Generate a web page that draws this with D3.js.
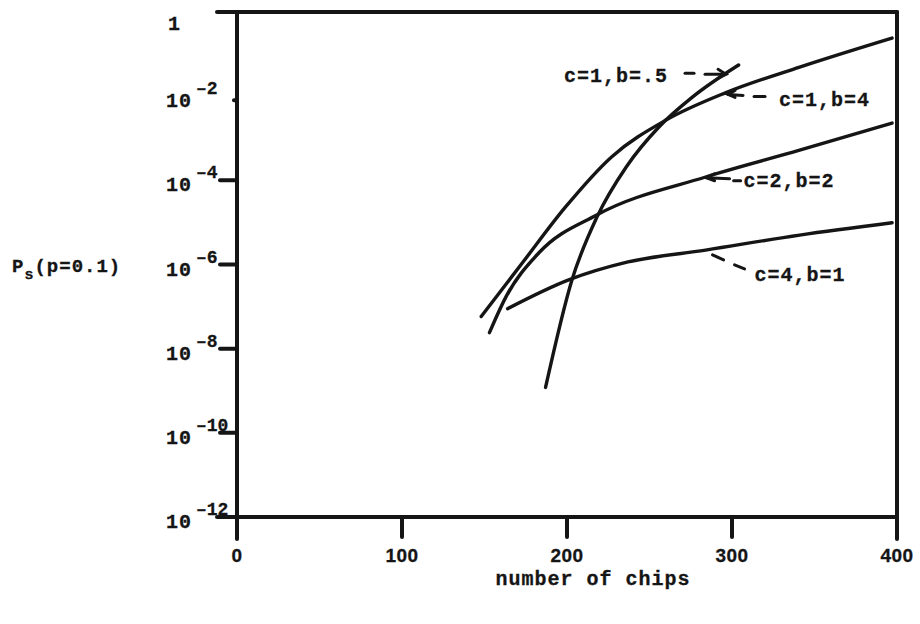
<!DOCTYPE html>
<html>
<head>
<meta charset="utf-8">
<script src="https://cdn.jsdelivr.net/npm/d3@7"></script>
<style>
  body { margin: 0; background: #fff; }
  text { font-family: "Liberation Mono", "DejaVu Sans Mono", monospace; font-weight: bold; fill: #151515; stroke: #151515; stroke-width: 0.3; }
  .num { font-family: "Liberation Sans", Arial, sans-serif; }
</style>
</head>
<body>
<div id="chart"></div>
<script>
// DATA ---------------------------------------------------------------------
const seriesNames = ["c=1,b=.5", "c=1,b=4", "c=2,b=2", "c=4,b=1"];

const chipsA = [187, 203, 218, 236, 256, 276, 304];
const probA  = [1.2e-9, 4.3e-7, 1.3e-5, 2.1e-4, 1.9e-3, 9.5e-3, 5.5e-2];

const chipsB = [148, 173, 199, 227, 260, 296, 341, 397];
const probB  = [5.8e-8, 1.1e-6, 2.3e-5, 3.6e-4, 2.7e-3, 1.2e-2, 4.9e-2, 2.4e-1];

const chipsC = [153, 163, 183, 218, 284, 341, 397];
const probC  = [2.4e-8, 1.7e-7, 1.9e-6, 1.5e-5, 1.2e-4, 5.2e-4, 2.3e-3];

const chipsD = [164, 201, 237, 284, 341, 397];
const probD  = [8.9e-8, 4.3e-7, 1.15e-6, 2.2e-6, 5.0e-6, 9.8e-6];

// where each label's leader touches its curve
const labelChips = [297, 297, 284, 287];
const labelProb  = [3.7e-2, 1.1e-2, 1.15e-4, 2.0e-6];

const xTicks = [0, 100, 200, 300, 400];
const yExponents = [0, -2, -4, -6, -8, -10, -12];
// DATA ---------------------------------------------------------------------

const width = 920, height = 624;
const box = { left: 237, right: 897, top: 12, bottom: 517 };
const fontSize = 20;

const svg = d3.select("#chart").append("svg")
  .attr("width", width)
  .attr("height", height);

const x = d3.scaleLinear().domain([0, 400]).range([box.left, box.right]);
const y = d3.scaleLog().domain([1e-12, 1]).range([box.bottom, box.top]);

// FRAME ---------------------------------------------------------------------
const frame = svg.append("g")
  .attr("stroke", "#151515")
  .attr("stroke-width", 4)
  .attr("stroke-linecap", "round")
  .attr("fill", "none");

frame.append("line").attr("x1", box.left - 20).attr("x2", box.right).attr("y1", box.top).attr("y2", box.top);
frame.append("line").attr("x1", box.left - 20).attr("x2", box.right).attr("y1", box.bottom).attr("y2", box.bottom);
frame.append("line").attr("x1", box.left).attr("x2", box.left).attr("y1", box.top).attr("y2", box.bottom + 22);
frame.append("line").attr("x1", box.right).attr("x2", box.right).attr("y1", box.top).attr("y2", box.bottom + 22);

// x ticks
xTicks.forEach(t => {
  frame.append("line")
    .attr("x1", x(t)).attr("x2", x(t))
    .attr("y1", box.bottom).attr("y2", box.bottom + 20);
  svg.append("text")
    .attr("class", "num")
    .attr("x", x(t)).attr("y", box.bottom + 45)
    .attr("text-anchor", "middle")
    .attr("font-size", 19)
    .attr("letter-spacing", 0.5)
    .text(t);
});

// y ticks
yExponents.forEach(e => {
  const ty = y(Math.pow(10, e));
  if (e < -2 && e > -12) {
    frame.append("line")
      .attr("x1", box.left - 17).attr("x2", box.left)
      .attr("y1", ty).attr("y2", ty);
  } else if (e === -2) {
    frame.append("line")
      .attr("x1", box.left - 3).attr("x2", box.left)
      .attr("y1", ty + 4).attr("y2", ty + 4);
  }
  if (e === 0) {
    svg.append("text")
      .attr("x", 168).attr("y", ty + 18)
      .attr("font-size", fontSize)
      .text("1");
  } else {
    svg.append("text")
      .attr("x", 166).attr("y", ty + 11)
      .attr("font-size", fontSize)
      .attr("letter-spacing", 1)
      .text("10");
    svg.append("text")
      .attr("x", 196).attr("y", ty - 2)
      .attr("font-size", 18)
      .attr("letter-spacing", 0)
      .text(String(e).replace("-", "\u2013"));
  }
});

// CURVES ---------------------------------------------------------------------
const lineGen = d3.line()
  .x(d => x(d[0]))
  .y(d => y(d[1]))
  .curve(d3.curveMonotoneX);

const series = [
  d3.zip(chipsA, probA),
  d3.zip(chipsB, probB),
  d3.zip(chipsC, probC),
  d3.zip(chipsD, probD),
];

svg.append("g").selectAll("path").data(series).enter()
  .append("path")
  .attr("d", lineGen)
  .attr("fill", "none")
  .attr("stroke", "#151515")
  .attr("stroke-width", 3.4)
  .attr("stroke-linecap", "round");

// LABELS ---------------------------------------------------------------------
const leaders = svg.append("g")
  .attr("stroke", "#151515")
  .attr("stroke-width", 3)
  .attr("stroke-linecap", "round")
  .attr("fill", "none");

const anchors = labelChips.map((c, i) => [x(c), y(labelProb[i])]);

const addLabel = (i, dx, dy) => {
  const [ax, ay] = anchors[i];
  svg.append("text").attr("x", ax + dx).attr("y", ay + dy)
    .attr("font-size", fontSize).attr("letter-spacing", 1).text(seriesNames[i]);
};

// c=1,b=.5  text sits left, arrow points right at the steep curve
{
  const [ax, ay] = anchors[0];
  addLabel(0, -163, 10);
  leaders.append("line").attr("x1", ax - 42).attr("x2", ax - 33).attr("y1", ay + 1).attr("y2", ay + 1);
  leaders.append("line").attr("x1", ax - 22).attr("x2", ax - 2).attr("y1", ay + 2).attr("y2", ay + 2);
  leaders.append("path").attr("d", `M${ax - 9},${ay - 3}L${ax - 1},${ay + 2}L${ax - 9},${ay + 6}`);
}
// c=1,b=4
{
  const [ax, ay] = anchors[1];
  addLabel(1, 52, 12);
  leaders.append("line").attr("x1", ax + 1).attr("x2", ax + 16).attr("y1", ay).attr("y2", ay + 1);
  leaders.append("line").attr("x1", ax + 27).attr("x2", ax + 38).attr("y1", ay + 2).attr("y2", ay + 2);
  leaders.append("path").attr("d", `M${ax + 8},${ay - 4}L${ax + 1},${ay}L${ax + 8},${ay + 3}`);
}
// c=2,b=2
{
  const [ax, ay] = anchors[2];
  addLabel(2, 38, 9);
  leaders.append("line").attr("x1", ax + 1).attr("x2", ax + 24).attr("y1", ay).attr("y2", ay + 1);
  leaders.append("line").attr("x1", ax + 28).attr("x2", ax + 35).attr("y1", ay + 3).attr("y2", ay + 3);
  leaders.append("path").attr("d", `M${ax + 9},${ay - 4}L${ax + 1},${ay}L${ax + 9},${ay + 3}`);
}
// c=4,b=1
{
  const [ax, ay] = anchors[3];
  addLabel(3, 44, 29);
  leaders.append("line").attr("x1", ax + 2).attr("x2", ax + 13).attr("y1", ay + 3).attr("y2", ay + 8);
  leaders.append("line").attr("x1", ax + 24).attr("x2", ax + 34).attr("y1", ay + 13).attr("y2", ay + 17);
}

// AXIS TITLES ---------------------------------------------------------------------
const yTitle = svg.append("text")
  .attr("x", 12).attr("y", 272)
  .attr("font-size", 19)
  .attr("letter-spacing", 1);
yTitle.append("tspan").text("P");
yTitle.append("tspan").attr("font-size", 15).attr("dy", 7).text("s");
yTitle.append("tspan").attr("dy", -7).text("(p=0.1)");

svg.append("text")
  .attr("x", (box.left + box.right) / 2 + 26).attr("y", 585)
  .attr("text-anchor", "middle")
  .attr("font-size", fontSize)
  .attr("letter-spacing", 1)
  .text("number of chips");
</script>
</body>
</html>
